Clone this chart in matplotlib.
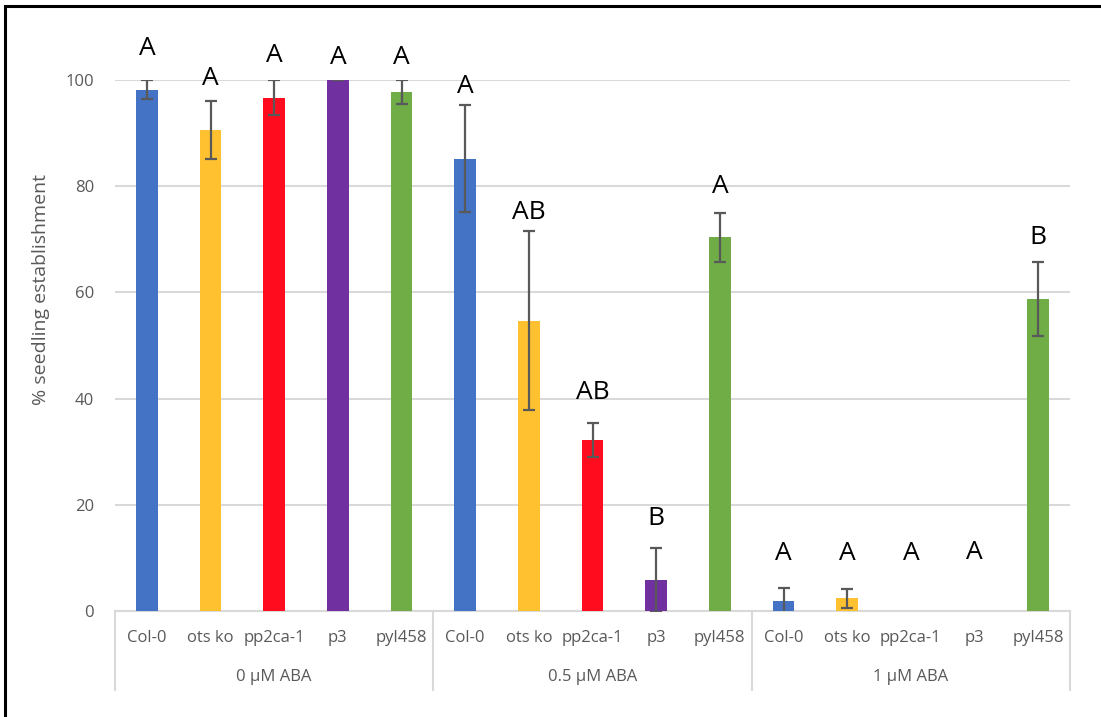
import numpy as np
import matplotlib
matplotlib.use('Agg')
import matplotlib.pyplot as plt
import matplotlib.transforms as mtransforms
from matplotlib.patches import Rectangle

plt.rcParams['font.family'] = ['Open Sans', 'DejaVu Sans']

# data
genotypes = ["Col-0", "ots ko", "pp2ca-1", "p3", "pyl458"]
treatments = ["0 µM ABA", "0.5 µM ABA", "1 µM ABA"]
means = [
    [98.2, 90.6, 96.7, 100.0, 97.7],
    [85.2, 54.7, 32.2, 5.8, 70.4],
    [1.9, 2.4, 0.0, 0.0, 58.8],
]
errs = [
    [1.8, 5.5, 3.3, 0.0, 2.3],
    [10.0, 16.8, 3.2, 6.0, 4.6],
    [2.4, 1.8, 0.0, 0.0, 7.0],
]
letters = [
    ["A", "A", "A", "A", "A"],
    ["A", "AB", "AB", "B", "A"],
    ["A", "A", "A", "A", "B"],
]
letter_y = [
    [106.0, 100.3, 104.7, 104.3, 104.3],
    [98.7, 75.0, 41.2, 17.5, 79.9],
    [10.9, 10.9, 10.9, 11.1, 70.4],
]
colors = ["#4472C4", "#FFC12F", "#FF0D1E", "#7030A0", "#70AD47"]

n_g = len(genotypes)
n_t = len(treatments)

fig = plt.figure(figsize=(11.01, 7.17), dpi=100)
ax = fig.add_axes([115/1101, 1-611/717, (1070-115)/1101, (611-80)/717])

for t in range(n_t):
    x = np.arange(n_g) + t*n_g
    ax.bar(x, means[t], width=0.34, color=colors, zorder=3)
    for i in range(n_g):
        if means[t][i] > 0:
            ax.errorbar(x[i], means[t][i], yerr=errs[t][i], fmt='none',
                        ecolor='#595959', elinewidth=1.6, capsize=4,
                        capthick=1.6, zorder=4)
        ax.text(x[i], letter_y[t][i], letters[t][i], ha='center', va='center',
                fontsize=19, color='black', clip_on=False)

ax.set_xlim(-0.5, n_g*n_t - 0.5)
ax.set_ylim(0, 100)
ax.set_yticks([0, 20, 40, 60, 80, 100])
ax.yaxis.grid(True, color='#d9d9d9', lw=1.5)
ax.set_axisbelow(True)
for s in ['top', 'right', 'left']:
    ax.spines[s].set_visible(False)
ax.spines['bottom'].set_color('#d9d9d9')
ax.spines['bottom'].set_linewidth(1.5)

ax.set_xticks(np.arange(n_g*n_t))
ax.set_xticklabels(genotypes*n_t)
ax.tick_params(axis='x', length=0, pad=14, labelsize=12, labelcolor='#595959')
ax.tick_params(axis='y', length=0, pad=15, labelsize=12, labelcolor='#595959')
ax.set_ylabel("% seedling establishment", fontsize=14, color='#595959')
ax.yaxis.set_label_coords(-0.068, 0.605)

# group labels and separators
trans = mtransforms.blended_transform_factory(ax.transData, ax.transAxes)
for t in range(n_t + 1):
    ax.plot([t*n_g - 0.5]*2, [0, -0.149], transform=trans, color='#d9d9d9',
            lw=1.5, clip_on=False)
for t in range(n_t):
    ax.annotate(treatments[t], xy=((t + 0.5)*n_g - 0.5, 0), xycoords=trans,
                xytext=(0, -47.5), textcoords='offset points', ha='center',
                va='center', fontsize=12, color='#595959')

# black frame of the screenshot
fig.patches.append(Rectangle((5/1101, -0.1), 1.2, 1 - 6/717 + 0.1,
                             transform=fig.transFigure, fill=False,
                             edgecolor='black', lw=2.2))

fig.savefig("out.png", dpi=100)
